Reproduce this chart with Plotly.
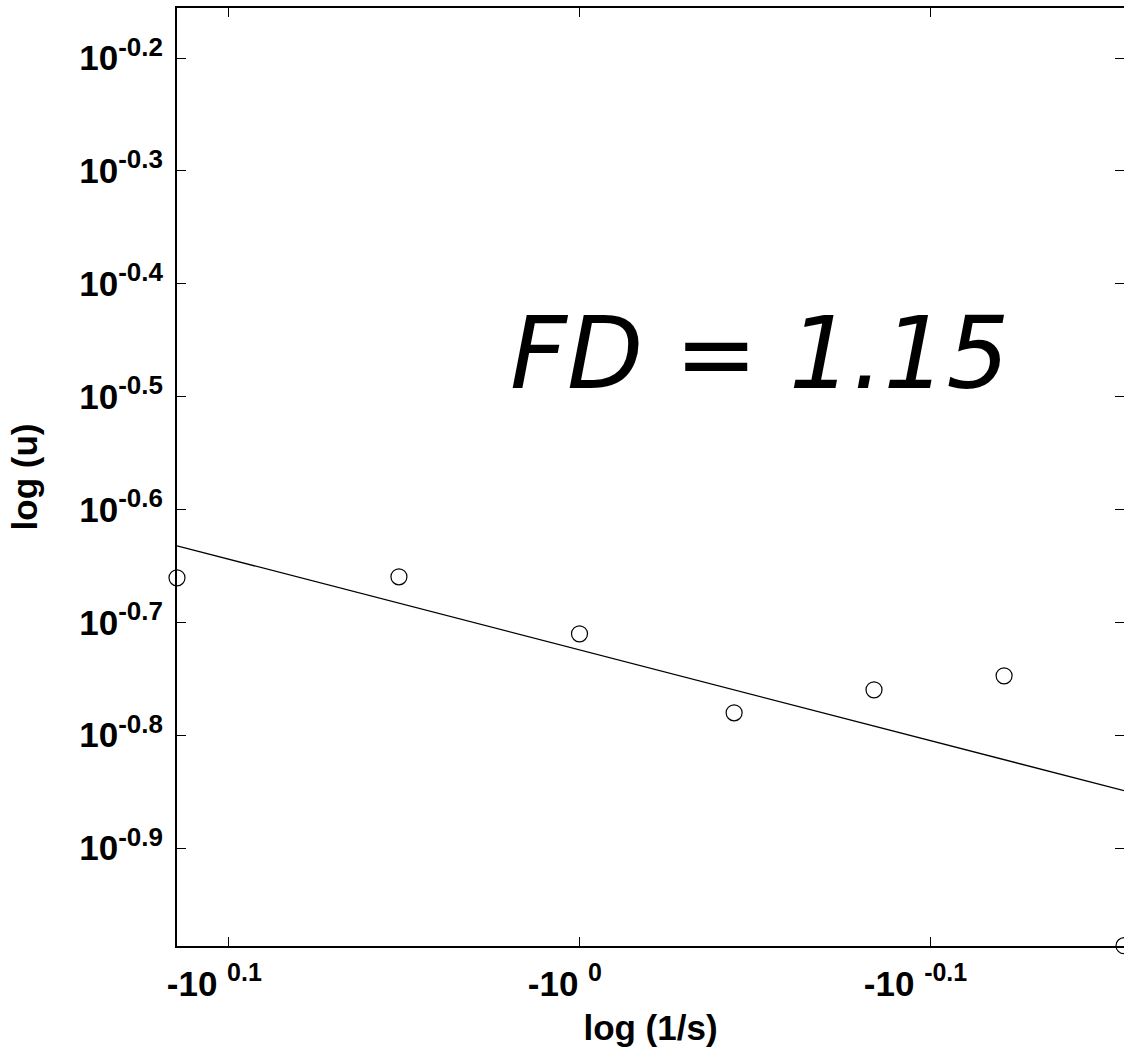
import plotly.graph_objects as go

# Box-counting result: exponents of the axis values
log_inv_s = [0.1148, 0.0515, 0.0, -0.0441, -0.0840, -0.1211, -0.1553]
log_u = [-0.6606, -0.6597, -0.7102, -0.7802, -0.7598, -0.7474, -0.9865]

# Regression line end points
fit_x = [0.1148, -0.1553]
fit_y = [-0.6322, -0.8492]

x_tick_vals = [0.1, 0.0, -0.1]
x_tick_exp = ["0.1", "0", "-0.1"]
y_tick_vals = [-0.2, -0.3, -0.4, -0.5, -0.6, -0.7, -0.8, -0.9]
y_tick_exp = ["-0.2", "-0.3", "-0.4", "-0.5", "-0.6", "-0.7", "-0.8", "-0.9"]

fd_label = "FD = 1.15"

SUP = "<sup><span style='font-size:{}px'>{}</span></sup>"
# trailing no-break spaces keep the mantissa centred under the tick
x_tick_text = ["-10 " + SUP.format(25, e) + "\u00a0\u00a0\u00a0" for e in x_tick_exp]
y_tick_text = ["10" + SUP.format(26, e) for e in y_tick_exp]

fig = go.Figure()

fig.add_trace(go.Scatter(
    x=fit_x, y=fit_y, mode="lines",
    line=dict(color="black", width=1.3),
    showlegend=False, hoverinfo="skip",
))

fig.add_trace(go.Scatter(
    x=log_inv_s, y=log_u, mode="markers",
    marker=dict(symbol="circle-open", size=16, color="black",
                line=dict(color="black", width=1.2)),
    cliponaxis=False, showlegend=False,
))

fig.add_annotation(
    x=-0.0515, y=-0.4617, xref="x", yref="y",
    text=fd_label, showarrow=False,
    font=dict(family="DejaVu Sans", size=99, color="black", style="italic"),
    xanchor="center", yanchor="middle",
)

tick_font = dict(family="Liberation Sans, Arial, sans-serif", size=35,
                 color="black", weight="bold")
title_font = dict(family="Liberation Sans, Arial, sans-serif", size=35,
                  color="black", weight="bold")

fig.update_xaxes(
    range=[0.1148, -0.1553],
    tickmode="array", tickvals=x_tick_vals, ticktext=x_tick_text,
    ticks="inside", ticklen=9, tickwidth=1, tickcolor="black",
    showline=True, linewidth=2, linecolor="black", mirror="ticks",
    showgrid=False, zeroline=False,
    tickfont=tick_font, ticklabelstandoff=6,
    title=dict(text="log (1/s)", font=title_font, standoff=13),
)

fig.update_yaxes(
    range=[-0.9868, -0.1557],
    tickmode="array", tickvals=y_tick_vals, ticktext=y_tick_text,
    ticks="inside", ticklen=9, tickwidth=1, tickcolor="black",
    showline=True, linewidth=2, linecolor="black", mirror="ticks",
    showgrid=False, zeroline=False,
    tickfont=tick_font, ticklabelstandoff=5,
    title=dict(text="log (u)", font=title_font, standoff=31),
)

fig.update_layout(
    width=1124, height=1049,
    margin=dict(l=177, r=0, t=8, b=103, autoexpand=False),
    plot_bgcolor="white", paper_bgcolor="white",
    showlegend=False,
)

fig.write_html("out.html")
